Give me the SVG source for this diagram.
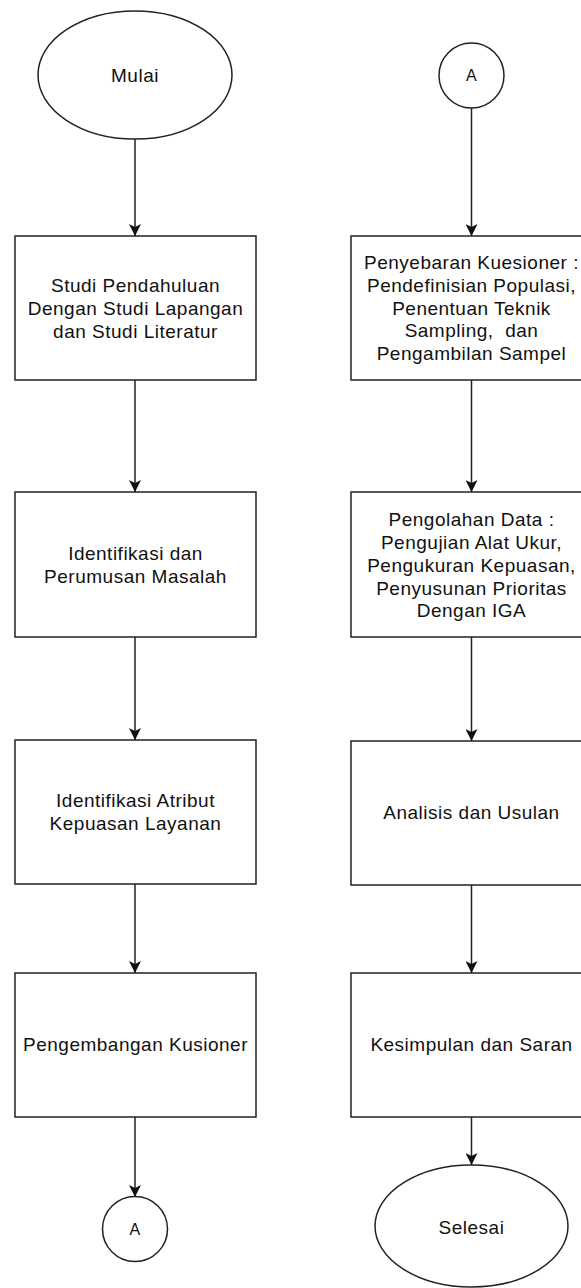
<svg xmlns="http://www.w3.org/2000/svg" width="581" height="1288" viewBox="0 0 581 1288">
<defs>
<style>
.shape{fill:#ffffff;stroke:#222222;stroke-width:1.5}
.lbl{font-family:"Liberation Sans",Arial,sans-serif;font-size:19px;letter-spacing:0.5px;fill:#111111;text-anchor:middle;dominant-baseline:central}
.edge{fill:none;stroke:#222222;stroke-width:1.5;marker-end:url(#arr)}
</style>
<marker id="arr" viewBox="0 0 12 12" refX="12" refY="6" markerWidth="12" markerHeight="12" markerUnits="userSpaceOnUse" orient="auto">
<path d="M0,0 L12,6 L0,12 L3,6 Z" fill="#111111"/>
</marker>
</defs>
<rect width="581" height="1288" fill="#ffffff"/>
<g id="connectors">
<line class="edge" x1="135" y1="139" x2="135" y2="236"/>
<line class="edge" x1="135" y1="380" x2="135" y2="492"/>
<line class="edge" x1="135" y1="637" x2="135" y2="740"/>
<line class="edge" x1="135" y1="884" x2="135" y2="973"/>
<line class="edge" x1="135" y1="1117" x2="135" y2="1197"/>
<line class="edge" x1="471.5" y1="108" x2="471.5" y2="236"/>
<line class="edge" x1="471.5" y1="380" x2="471.5" y2="492"/>
<line class="edge" x1="471.5" y1="637" x2="471.5" y2="741"/>
<line class="edge" x1="471.5" y1="885" x2="471.5" y2="973"/>
<line class="edge" x1="471.5" y1="1117" x2="471.5" y2="1165"/>
</g>
<g id="mulai">
<ellipse class="shape" cx="135" cy="75" rx="97" ry="64"/>
<text class="lbl" x="135" y="75">Mulai</text>
</g>
<g id="studi">
<rect class="shape" x="15" y="236" width="241" height="144"/>
<text class="lbl" x="135.5" y="285">Studi Pendahuluan</text>
<text class="lbl" x="135.5" y="308">Dengan Studi Lapangan</text>
<text class="lbl" x="135.5" y="331">dan Studi Literatur</text>
</g>
<g id="identifikasi">
<rect class="shape" x="15" y="492" width="241" height="145"/>
<text class="lbl" x="135.5" y="553">Identifikasi dan</text>
<text class="lbl" x="135.5" y="576">Perumusan Masalah</text>
</g>
<g id="atribut">
<rect class="shape" x="15" y="740" width="241" height="144"/>
<text class="lbl" x="135.5" y="800">Identifikasi Atribut</text>
<text class="lbl" x="135.5" y="823">Kepuasan Layanan</text>
</g>
<g id="pengembangan">
<rect class="shape" x="15" y="973" width="241" height="144"/>
<text class="lbl" x="135.5" y="1044">Pengembangan Kusioner</text>
</g>
<g id="connA-left">
<circle class="shape" cx="135" cy="1229" r="32.5"/>
<text class="lbl" x="135" y="1229" style="font-size:16px">A</text>
</g>
<g id="connA-right">
<circle class="shape" cx="471.5" cy="75.5" r="32.5"/>
<text class="lbl" x="471.5" y="75.5" style="font-size:16px">A</text>
</g>
<g id="penyebaran">
<rect class="shape" x="351" y="236" width="241" height="144"/>
<text class="lbl" x="471.5" y="262">Penyebaran Kuesioner :</text>
<text class="lbl" x="471.5" y="285">Pendefinisian Populasi,</text>
<text class="lbl" x="471.5" y="308">Penentuan Teknik</text>
<text class="lbl" x="471.5" y="330" xml:space="preserve">Sampling,  dan</text>
<text class="lbl" x="471.5" y="353">Pengambilan Sampel</text>
</g>
<g id="pengolahan">
<rect class="shape" x="351" y="492" width="241" height="145"/>
<text class="lbl" x="471.5" y="519">Pengolahan Data :</text>
<text class="lbl" x="471.5" y="542">Pengujian Alat Ukur,</text>
<text class="lbl" x="471.5" y="565">Pengukuran Kepuasan,</text>
<text class="lbl" x="471.5" y="588">Penyusunan Prioritas</text>
<text class="lbl" x="471.5" y="610">Dengan IGA</text>
</g>
<g id="analisis">
<rect class="shape" x="351" y="741" width="241" height="144"/>
<text class="lbl" x="471.5" y="812">Analisis dan Usulan</text>
</g>
<g id="kesimpulan">
<rect class="shape" x="351" y="973" width="241" height="144"/>
<text class="lbl" x="471.5" y="1044">Kesimpulan dan Saran</text>
</g>
<g id="selesai">
<ellipse class="shape" cx="471.5" cy="1226" rx="96.5" ry="61"/>
<text class="lbl" x="471.5" y="1227">Selesai</text>
</g>
</svg>
